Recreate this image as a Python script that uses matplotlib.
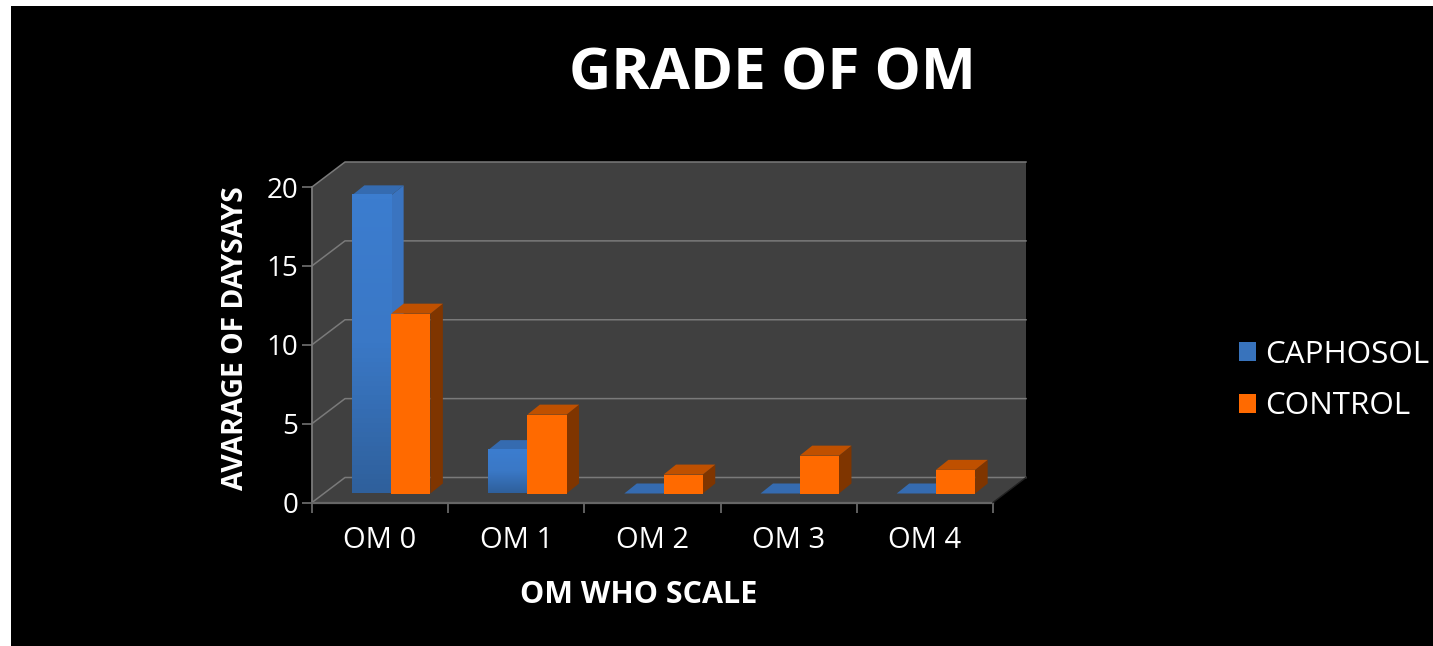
import numpy as np
import matplotlib
matplotlib.use("Agg")
import matplotlib.pyplot as plt
from matplotlib.colors import LinearSegmentedColormap
from matplotlib.patches import Patch, Polygon, Rectangle

categories = ["OM 0", "OM 1", "OM 2", "OM 3", "OM 4"]
caphosol = [18.9, 2.75, 0, 0, 0]
control = [11.4, 5, 1.2, 2.4, 1.5]
y_ticks = [0, 5, 10, 15, 20]

W, H = 1433, 646
# front plane of the fake 3D box, in pixels
LEFT, RIGHT, TOP, BOTTOM = 312, 993, 187, 502.5
plt.rcParams["font.family"] = ["Open Sans", "DejaVu Sans"]

fig = plt.figure(figsize=(W / 100, H / 100), dpi=100, facecolor="white")
bg = fig.add_axes([11 / W, 0, 1 - 11 / W, 1 - 6 / H])
bg.set_facecolor("black")
bg.set_xticks([])
bg.set_yticks([])
for s in bg.spines.values():
    s.set_visible(False)

ax = fig.add_axes([LEFT / W, 1 - BOTTOM / H, (RIGHT - LEFT) / W, (BOTTOM - TOP) / H])
ax.set_xlim(0, len(categories))
ax.set_ylim(0, 20)
ax.patch.set_visible(False)
for s in ax.spines.values():
    s.set_visible(False)

px_x = len(categories) / (RIGHT - LEFT)
px_y = 20 / (BOTTOM - TOP)
depth_x, depth_y = 33 * px_x, 25 * px_y
bar_w = 0.288
bar_start = 0.293
bar_lift = 9 * px_y
top_x, top_y = 12.5 * px_x, 10 * px_y

GRID = "#7a7a7a"
n = len(categories)
ax.add_patch(Polygon([(0, 0), (0, 20), (depth_x, 20 + depth_y), (n + depth_x, 20 + depth_y),
                      (n + depth_x, depth_y), (n, 0)],
                     closed=True, fc="#404040", ec="none", clip_on=False, zorder=1))
for v in y_ticks:
    ax.plot([0, depth_x, n + depth_x], [v, v + depth_y, v + depth_y],
            color=GRID, lw=1.1, clip_on=False, zorder=2)
ax.plot([0, 0], [0, 20], color=GRID, lw=1.3, clip_on=False, zorder=2)
ax.plot([0, n], [0, 0], color="#666666", lw=1.6, clip_on=False, zorder=2)
ax.plot([n, n + depth_x], [0, depth_y], color="#222222", lw=1.0, clip_on=False, zorder=2)

blue_cm = LinearSegmentedColormap.from_list("blue_bar", ["#3C7DCF", "#3A78C6", "#2F609C"])


def draw_bar(x0, value, kind, z):
    x1 = x0 + bar_w
    y0 = bar_lift
    y1 = bar_lift + value
    top = [(x0, y1), (x0 + top_x, y1 + top_y), (x1 + top_x, y1 + top_y), (x1, y1)]
    side = [(x1, y0), (x1 + top_x, y0 + top_y), (x1 + top_x, y1 + top_y), (x1, y1)]
    if kind == "blue":
        ax.add_patch(Polygon(side, fc="#3A74C0", ec="none", clip_on=False, zorder=z))
        ax.add_patch(Polygon(top, fc="#356BB0", ec="none", clip_on=False, zorder=z))
        if value > 0:
            grad = np.linspace(0, 1, 64).reshape(-1, 1)
            ax.imshow(grad, extent=(x0, x1, y0, y1), cmap=blue_cm, aspect="auto",
                      origin="upper", zorder=z + 0.1, clip_on=False)
    else:
        ax.add_patch(Polygon(side, fc="#7F3500", ec="none", clip_on=False, zorder=z))
        ax.add_patch(Polygon(top, fc="#BF5000", ec="none", clip_on=False, zorder=z))
        ax.add_patch(Rectangle((x0, y0), bar_w, value, fc="#FF6A00", ec="none",
                               clip_on=False, zorder=z + 0.1))


for i in range(n):
    draw_bar(i + bar_start, caphosol[i], "blue", 3 + i)
    draw_bar(i + bar_start + bar_w, control[i], "orange", 3.5 + i)
ax.set_xlim(0, n)
ax.set_ylim(0, 20)

ax.set_yticks(y_ticks)
ax.set_yticklabels([str(v) for v in y_ticks])
ax.set_xticks(np.arange(n + 1))
ax.set_xticklabels([""] * (n + 1))
ax.set_xticks(np.arange(n) + 0.5, labels=categories, minor=True)
ax.tick_params(axis="y", colors=GRID, labelcolor="white", labelsize=20, length=7, width=1.1, pad=3)
ax.tick_params(axis="x", which="major", colors=GRID, length=7, width=1.1)
ax.tick_params(axis="x", which="minor", length=0, labelcolor="white", labelsize=21, pad=17)

ax.set_xlabel("OM WHO SCALE", color="white", fontsize=22, fontweight="bold", labelpad=18, x=0.479)
ax.set_ylabel("AVARAGE OF DAYSAYS", color="white", fontsize=20.3, fontweight="bold", labelpad=12, y=0.521)
fig.text(772 / W, 1 - 75 / H, "GRADE OF OM", color="white", fontsize=42, fontweight="bold",
         ha="center", va="center")

handles = [Patch(fc="#3873BC", label="CAPHOSOL"), Patch(fc="#FF6A00", label="CONTROL")]
leg = fig.legend(handles=handles, loc="center left", bbox_to_anchor=(1239 / W, 1 - 380.5 / H),
                 frameon=False, fontsize=22.6, labelcolor="white", handlelength=0.54,
                 handleheight=0.57, handletextpad=0.3, labelspacing=0.7, borderpad=0,
                 borderaxespad=0)

fig.savefig("out.png", dpi=100, facecolor=fig.get_facecolor())
